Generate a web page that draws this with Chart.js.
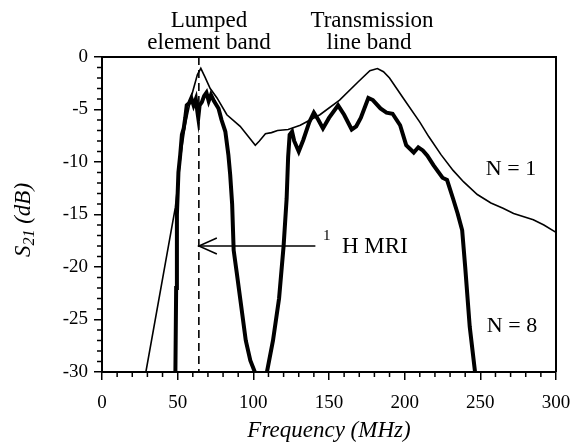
<!DOCTYPE html>
<html>
<head>
<meta charset="utf-8">
<title>S21 vs frequency</title>
<script src="https://cdn.jsdelivr.net/npm/chart.js@4.4.0/dist/chart.umd.min.js"></script>
<style>
  html, body { margin: 0; padding: 0; background: #fff; }
  #wrap { width: 572px; height: 445px; }
</style>
</head>
<body>
<div id="wrap"><canvas id="s21-chart" width="572" height="445"></canvas></div>
<script>
//Global variables
var SERIF = "'Liberation Serif', 'Times New Roman', serif";

//N = 1 (thin curve)
var freqN1 = [29, 48.5, 52, 55, 58.8, 60.5, 63, 65.3, 68, 71.5, 76, 82.5, 91.3, 101.3,
  104, 108, 112, 116, 123, 131, 144, 157, 169, 177, 182, 186, 190, 199, 210, 216,
  224, 232, 239, 248, 257, 265, 272, 285, 292, 300];
var s21N1 = [-30, -14.3, -9.5, -6.5, -3.9, -3.0, -1.7, -1.08, -1.9, -3.0, -3.9, -5.5, -6.6, -8.4,
  -8.0, -7.3, -7.2, -7.0, -6.9, -6.5, -5.5, -4.1, -2.4, -1.3, -1.1, -1.4, -2.0, -3.9, -6.2, -7.6,
  -9.3, -10.8, -11.9, -13.1, -13.9, -14.4, -14.9, -15.5, -16.0, -16.7];

//N = 8 (thick curve), lumped element band
var freqN8a = [48.5, 49, 49.5, 50.5, 51.7, 52.8, 54, 55, 56, 57.5, 59, 60.5, 62, 63, 63.6,
  64.5, 66, 67.5, 69, 70.5, 72, 74, 77, 79, 81.5, 83.5, 84.7, 86, 87, 89, 91.4, 95, 98, 101];
var s21N8a = [-30, -22, -15, -11, -9.3, -7.4, -6.8, -5.8, -4.6, -4.4, -3.9, -4.6, -4.0, -5.2, -5.8,
  -4.6, -4.3, -3.7, -3.4, -4.2, -3.6, -4.2, -4.9, -6.0, -7.1, -9.3, -11.2, -14, -18.4, -20.5, -23.1, -27, -28.9, -30];

//N = 8 (thick curve), transmission line band
var freqN8b = [109, 113, 117, 120, 122, 123, 124, 125.6, 127, 130, 133, 137, 140, 143, 146, 150,
  156, 160, 165, 168, 171, 176, 179, 184, 188, 192, 197, 201, 206, 209, 212, 215, 219, 225,
  228, 232, 235, 238, 240, 243, 246.5];
var s21N8b = [-30, -27, -23, -18, -13.5, -9.5, -7.4, -7.1, -8.0, -9.0, -7.9, -6.2, -5.3, -6.0, -6.8, -5.8,
  -4.6, -5.5, -6.9, -6.6, -5.8, -3.9, -4.1, -4.9, -5.3, -5.4, -6.5, -8.4, -9.1, -8.6, -8.9, -9.4, -10.3, -11.5,
  -11.7, -13.5, -14.9, -16.5, -20, -25.7, -30];

//1H MRI marker and arrow
var mriFreq = 64;
var arrowFreq = [141, 64];
var arrowLevel = -18;

//axes
var xTicks = [0, 50, 100, 150, 200, 250, 300];
var yTicks = [-30, -25, -20, -15, -10, -5, 0];

/*******************************
* Pairs an x array with a y array
* into {x, y} points for the chart
*******************************/
function toPoints(xs, ys) {
  var pts = [];
  for (var i = 0; i < xs.length; i++) {
    pts.push({x: xs[i], y: ys[i]});
  }
  return pts;
}

/*******************************
* Draws box, minor ticks, arrow head,
* y title and the text labels
*******************************/
var decorPlugin = {
  id: "decor",
  afterDraw: function(chart) {
    var ctx = chart.ctx;
    var xs = chart.scales.x;
    var ys = chart.scales.y;
    var a = chart.chartArea;
    ctx.save();
    ctx.strokeStyle = "#000";
    ctx.fillStyle = "#000";

    //top and right border
    ctx.lineWidth = 2;
    ctx.beginPath();
    ctx.moveTo(a.left, a.top);
    ctx.lineTo(a.right, a.top);
    ctx.lineTo(a.right, a.bottom);
    ctx.stroke();

    //minor ticks
    ctx.lineWidth = 1.5;
    ctx.beginPath();
    for (var f = 10; f < 300; f += 10) {
      if (f % 50 === 0) continue;
      var px = xs.getPixelForValue(f);
      ctx.moveTo(px, a.bottom);
      ctx.lineTo(px, a.bottom + 5);
    }
    for (var d = -29; d < 0; d++) {
      if (d % 5 === 0) continue;
      var py = ys.getPixelForValue(d);
      ctx.moveTo(a.left, py);
      ctx.lineTo(a.left - 5, py);
    }
    ctx.stroke();

    //arrow head at the MRI line
    var tipX = xs.getPixelForValue(arrowFreq[1]);
    var tipY = ys.getPixelForValue(arrowLevel);
    ctx.lineWidth = 1.5;
    ctx.beginPath();
    ctx.moveTo(tipX + 18, tipY - 8);
    ctx.lineTo(tipX, tipY);
    ctx.lineTo(tipX + 18, tipY + 8);
    ctx.stroke();

    //y axis title S21 (dB)
    ctx.save();
    ctx.translate(30, 220);
    ctx.rotate(-Math.PI / 2);
    ctx.textBaseline = "alphabetic";
    ctx.font = "italic 23px " + SERIF;
    var w1 = ctx.measureText("S").width;
    ctx.font = "italic 16px " + SERIF;
    var w2 = ctx.measureText("21").width;
    ctx.font = "italic 23px " + SERIF;
    var w3 = ctx.measureText(" (dB)").width;
    var x0 = -(w1 + w2 + w3) / 2;
    ctx.textAlign = "left";
    ctx.fillText("S", x0, 0);
    ctx.font = "italic 16px " + SERIF;
    ctx.fillText("21", x0 + w1, 4);
    ctx.font = "italic 23px " + SERIF;
    ctx.fillText(" (dB)", x0 + w1 + w2, 0);
    ctx.restore();

    //band labels
    ctx.font = "23px " + SERIF;
    ctx.textAlign = "center";
    ctx.textBaseline = "alphabetic";
    ctx.fillText("Lumped", 209, 27);
    ctx.fillText("element band", 209, 49);
    ctx.fillText("Transmission", 372, 27);
    ctx.fillText("line band", 369, 49);

    //curve labels
    ctx.font = "22px " + SERIF;
    ctx.fillText("N = 1", 511, 175);
    ctx.fillText("N = 8", 512, 332);

    //1H MRI label
    ctx.textAlign = "left";
    ctx.font = "15px " + SERIF;
    ctx.fillText("1", 323, 240);
    ctx.font = "23px " + SERIF;
    ctx.fillText("H MRI", 342, 253);

    ctx.restore();
  }
};

/*******************************
* Builds the chart
*******************************/
function drawChart() {
  new Chart("s21-chart", {
    type: "line",
    data: {
      datasets: [
        {
          label: "N = 1",
          data: toPoints(freqN1, s21N1),
          borderColor: "#000",
          borderWidth: 1.6,
          pointRadius: 0,
          tension: 0
        },
        {
          label: "N = 8 lumped",
          data: toPoints(freqN8a, s21N8a),
          borderColor: "#000",
          borderWidth: 4,
          pointRadius: 0,
          tension: 0
        },
        {
          label: "N = 8 line",
          data: toPoints(freqN8b, s21N8b),
          borderColor: "#000",
          borderWidth: 4,
          pointRadius: 0,
          tension: 0
        },
        {
          label: "1H MRI",
          data: toPoints([mriFreq, mriFreq], [0, -30]),
          borderColor: "#000",
          borderWidth: 1.6,
          borderDash: [8, 5],
          pointRadius: 0
        },
        {
          label: "arrow",
          data: toPoints(arrowFreq, [arrowLevel, arrowLevel]),
          borderColor: "#000",
          borderWidth: 1.5,
          pointRadius: 0
        }
      ]
    },
    options: {
      responsive: false,
      animation: false,
      layout: {padding: {top: 57, right: 16, left: 0, bottom: 0}},
      plugins: {
        legend: {display: false},
        tooltip: {enabled: false}
      },
      scales: {
        x: {
          type: "linear",
          min: 0,
          max: 300,
          afterBuildTicks: function(s) { s.ticks = xTicks.map(function(v) { return {value: v}; }); },
          afterFit: function(s) { s.height = 73; s.paddingLeft = 0; s.paddingRight = 0; },
          ticks: {color: "#000", font: {family: SERIF, size: 19}, padding: 12, maxRotation: 0},
          grid: {drawOnChartArea: false, color: "#000", tickLength: 8, lineWidth: 1.5},
          border: {color: "#000", width: 2},
          title: {
            display: true,
            text: "Frequency (MHz)",
            color: "#000",
            font: {family: SERIF, size: 23, style: "italic"},
            padding: {top: 0, bottom: 0}
          }
        },
        y: {
          min: -30,
          max: 0,
          afterBuildTicks: function(s) { s.ticks = yTicks.map(function(v) { return {value: v}; }); },
          afterFit: function(s) { s.width = 102; s.paddingTop = 0; s.paddingBottom = 0; },
          ticks: {color: "#000", font: {family: SERIF, size: 19}, padding: 6},
          grid: {drawOnChartArea: false, color: "#000", tickLength: 8, lineWidth: 1.5},
          border: {color: "#000", width: 2}
        }
      }
    },
    plugins: [decorPlugin]
  });
}

drawChart();
</script>
</body>
</html>
